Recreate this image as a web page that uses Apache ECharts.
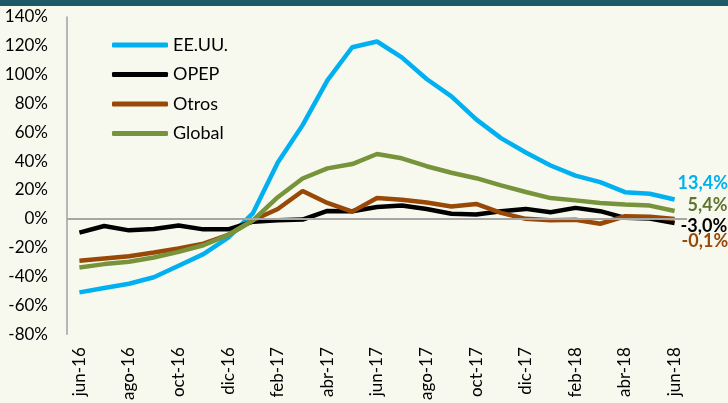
<!DOCTYPE html>
<html style="height: 100%">
    <head>
        <meta charset="utf-8">
        <style type="text/css">
            body, html, #display {width: 100%; height: 100%; overflow: hidden; margin: 0;}
        </style>
    </head>
    <body style="height: 100%; margin: 0">
        <div id="display"></div>
    </body>
    <script type="text/javascript" src="https://cdn.jsdelivr.net/npm/echarts@6/dist/echarts.min.js"></script>
    <script type="text/javascript">
	// meses jun-16 .. jun-18
	var months = ['jun-16','jul-16','ago-16','sep-16','oct-16','nov-16','dic-16','ene-17','feb-17','mar-17','abr-17','may-17',
		'jun-17','jul-17','ago-17','sep-17','oct-17','nov-17','dic-17','ene-18','feb-18','mar-18','abr-18','may-18','jun-18'];
	var usaData = [-51, -48, -45, -40.5, -32.5, -24.5, -13, 4, 39, 65, 96, 119, 123, 112, 97, 85, 69, 56, 46, 37, 30, 25.5, 18.5, 17.4, 13.4];
	var opepData = [-9.6, -5, -8, -7, -4.6, -7.3, -7.3, -2, -1, -0.5, 5.5, 5.3, 8.2, 9.3, 6.8, 3.5, 3, 5.3, 6.9, 4.6, 7.6, 5.3, 0.7, 0.2, -3.0];
	var otrosData = [-29, -27.5, -26, -23.4, -20.6, -17.2, -11.2, -1, 6.8, 19.3, 11, 5, 14.4, 13.3, 11.3, 8.5, 10.3, 4.1, 0, -0.9, -0.7, -3.4, 1.8, 1.4, -0.1];
	var globalData = [-33.7, -31.4, -29.8, -26.8, -22.9, -18.3, -11.2, -1, 15, 28, 35, 38, 45, 42, 36.5, 32, 28.2, 23.2, 18.6, 14.4, 12.8, 11, 9.9, 9.2, 5.4];

	var font = 'Lato';
	var chart = echarts.init(document.getElementById('display'));

	function endLbl(color, offset){
		return {
			show: true,
			distance: 0,
			offset: offset,
			color: color,
			fontFamily: font,
			fontWeight: 'bold',
			fontSize: 18,
			formatter: function(p){ return p.value.toFixed(1).replace('.', ',') + '%'; }
		};
	}
	function mkSeries(name, data, color, lbl, extra){
		var s = {
			name: name,
			type: 'line',
			data: data,
			symbol: 'none',
			lineStyle: {width: 4.5, color: color},
			itemStyle: {color: color},
			endLabel: lbl
		};
		if (extra) for (var k in extra) s[k] = extra[k];
		return s;
	}

	var option = {
		animation: false,
		backgroundColor: '#f8f9ee',
		graphic: [{
			type: 'rect',
			left: 0, top: 0,
			shape: {width: 728, height: 6},
			style: {fill: '#1f5968'}
		}],
		grid: {left: 67, right: 41, top: 17, bottom: 66},
		legend: {
			orient: 'vertical',
			left: 107,
			top: 30,
			itemWidth: 56,
			itemHeight: 5,
			itemGap: 9.5,
			icon: 'roundRect',
			textStyle: {fontFamily: font, fontSize: 18, color: '#000', lineHeight: 20},
			data: ['EE.UU.', 'OPEP', 'Otros', 'Global']
		},
		xAxis: {
			type: 'category',
			data: months,
			boundaryGap: true,
			axisLine: {show: false},
			axisTick: {show: false},
			axisLabel: {
				interval: 1,
				rotate: 90,
				margin: 13,
				fontFamily: font,
				fontSize: 17,
				color: '#000'
			}
		},
		yAxis: {
			type: 'value',
			min: -80,
			max: 140,
			interval: 20,
			axisLine: {show: true, lineStyle: {color: '#a0a0a0', width: 1.5}},
			axisTick: {show: false},
			splitLine: {show: false},
			axisLabel: {
				margin: 19,
				fontFamily: font,
				fontSize: 17,
				color: '#000',
				formatter: '{value}%'
			}
		},
		series: [
			mkSeries('EE.UU.', usaData, '#00b0f0', endLbl('#00b0f0', [3, -16]), {
				markLine: {
					silent: true,
					symbol: 'none',
					label: {show: false},
					lineStyle: {color: '#a6a6a6', width: 2, type: 'solid'},
					data: [{yAxis: 0}]
				}
			}),
			mkSeries('OPEP', opepData, '#000000', endLbl('#000000', [6, 3])),
			mkSeries('Otros', otrosData, '#984807', endLbl('#984807', [7, 22])),
			mkSeries('Global', globalData, '#77933c', endLbl('#5e7530', [13, -6]))
		]
	};
	chart.setOption(option);
    </script>
</html>
